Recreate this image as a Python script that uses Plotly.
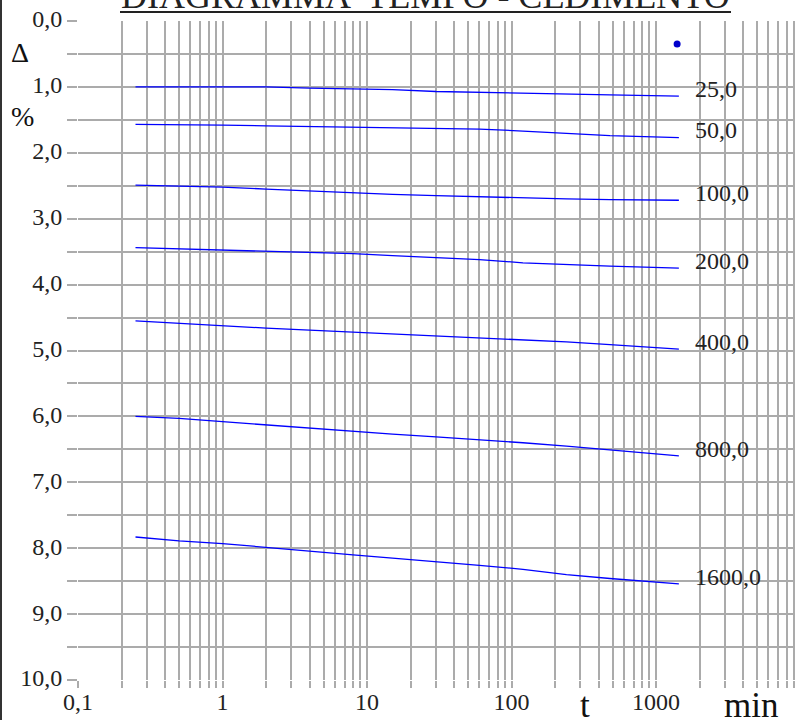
import math
import plotly.graph_objects as go

# ---- data ----
times = [0.25, 0.5, 1, 2, 4, 8, 15, 30, 60, 120, 240, 480, 1440]
load_labels = ["25,0", "50,0", "100,0", "200,0", "400,0", "800,0", "1600,0"]
s_25 = [1.00, 1.00, 1.00, 1.00, 1.02, 1.03, 1.04, 1.07, 1.08, 1.10, 1.11, 1.12, 1.14]
s_50 = [1.57, 1.57, 1.58, 1.59, 1.60, 1.60, 1.61, 1.62, 1.64, 1.67, 1.70, 1.74, 1.77]
s_100 = [2.49, 2.50, 2.52, 2.55, 2.58, 2.60, 2.63, 2.65, 2.67, 2.69, 2.70, 2.71, 2.72]
s_200 = [3.44, 3.46, 3.47, 3.49, 3.51, 3.53, 3.56, 3.59, 3.62, 3.67, 3.70, 3.72, 3.75]
s_400 = [4.55, 4.59, 4.62, 4.66, 4.69, 4.72, 4.74, 4.77, 4.80, 4.83, 4.87, 4.91, 4.98]
s_800 = [6.00, 6.03, 6.08, 6.13, 6.17, 6.22, 6.27, 6.31, 6.35, 6.40, 6.45, 6.51, 6.60]
s_1600 = [7.83, 7.89, 7.93, 7.99, 8.04, 8.10, 8.15, 8.20, 8.26, 8.32, 8.40, 8.46, 8.54]
series = [s_25, s_50, s_100, s_200, s_400, s_800, s_1600]
dot_t = [1400]
dot_v = [0.35]

x_decades = [0.1, 1, 10, 100, 1000]
x_ticktext = ["0,1", "1", "10", "100", "1000"]
y_major = [0, 1, 2, 3, 4, 5, 6, 7, 8, 9, 10]

# ---- figure ----
FONT = "Liberation Serif"
GRID = "#ababab"
BLUE = "#0000ff"

fig = go.Figure()
for vals in series:
    fig.add_trace(go.Scatter(x=times, y=vals, mode="lines",
                             line=dict(color=BLUE, width=1.3),
                             showlegend=False, hoverinfo="skip"))
fig.add_trace(go.Scatter(x=dot_t, y=dot_v, mode="markers",
                         marker=dict(color="#0000cc", size=7),
                         showlegend=False, hoverinfo="skip"))

# gridline positions: all 1..9 multiples of each decade
xvals, xtext = [], []
for d in x_decades:
    for m in range(1, 10):
        xvals.append(d * m)
        xtext.append(x_ticktext[x_decades.index(d)] if m == 1 else "")

yvals = [i * 0.5 for i in range(21)]
ytext = [(f"{v:.1f}".replace(".", ",") if v in y_major else "") for v in yvals]

px_left, px_right, px_top, px_bottom = 78, 795, 21, 680
decade_px = 144.5
xr = [-1, -1 + (px_right - px_left) / decade_px]

fig.update_layout(
    width=795, height=720,
    margin=dict(l=px_left, r=795 - px_right, t=px_top, b=720 - px_bottom, pad=0,
                autoexpand=False),
    paper_bgcolor="white", plot_bgcolor="white",
    font=dict(family=FONT, color="#222222"),
    xaxis=dict(type="log", range=xr, tickvals=xvals, ticktext=xtext,
               showgrid=True, gridcolor=GRID, gridwidth=1.5,
               ticks="outside", ticklen=7, tickcolor=GRID, tickwidth=1.5,
               ticklabelstandoff=-7,
               tickfont=dict(family=FONT, size=24, color="#222222"),
               zeroline=False, showline=False, automargin=False),
    yaxis=dict(range=[10, 0], tickvals=yvals, ticktext=ytext,
               showgrid=True, gridcolor=GRID, gridwidth=1.5,
               ticks="outside", ticklen=10, tickcolor=GRID, tickwidth=1.5,
               ticklabelshift=2,
               tickfont=dict(family=FONT, size=24, color="#222222"),
               zeroline=False, showline=False, automargin=False),
)

ph = px_bottom - px_top
pw = px_right - px_left

def py(pix):
    return 1 - (pix - px_top) / ph

def pxp(pix):
    return (pix - px_left) / pw

# series labels
label_logx = math.log10(1800)
for lab, vals in zip(load_labels, series):
    fig.add_annotation(x=label_logx, y=vals[-1] - 0.11, xref="x", yref="y",
                       text=lab, showarrow=False, xanchor="left", yanchor="middle",
                       font=dict(family=FONT, size=24, color="#222222"))

# axis symbols
fig.add_annotation(x=pxp(20), y=py(53), xref="paper", yref="paper", text="Δ",
                   showarrow=False, xanchor="center", yanchor="middle",
                   font=dict(family=FONT, size=28, color="#111111"))
fig.add_annotation(x=pxp(23), y=py(116), xref="paper", yref="paper", text="%",
                   showarrow=False, xanchor="center", yanchor="middle",
                   font=dict(family=FONT, size=28, color="#111111"))
fig.add_annotation(x=pxp(585), y=py(705), xref="paper", yref="paper", text="t",
                   showarrow=False, xanchor="center", yanchor="middle",
                   font=dict(family=FONT, size=35, color="#111111"))
fig.add_annotation(x=pxp(751), y=py(705), xref="paper", yref="paper", text="min",
                   showarrow=False, xanchor="center", yanchor="middle",
                   font=dict(family=FONT, size=35, color="#111111"))

# title (partially cut at top, as in the source) + underline
fig.add_annotation(x=pxp(425), y=py(18), xref="paper", yref="paper",
                   text="DIAGRAMMA  TEMPO - CEDIMENTO",
                   showarrow=False, xanchor="center", yanchor="bottom",
                   font=dict(family=FONT, size=36, color="#222222"))
fig.add_shape(type="line", xref="paper", yref="paper",
              x0=pxp(120), x1=pxp(731), y0=py(12), y1=py(12),
              line=dict(color="#222222", width=2))

# left frame line
fig.add_shape(type="line", xref="paper", yref="paper",
              x0=pxp(1), x1=pxp(1), y0=py(0), y1=py(720),
              line=dict(color="#333333", width=2))

# page body without default 8px margin so the figure sits at the window origin
fig.write_html("out.html",
               config={"displayModeBar": False},
               post_script="document.body.style.margin='0';document.body.style.overflow='hidden';")
